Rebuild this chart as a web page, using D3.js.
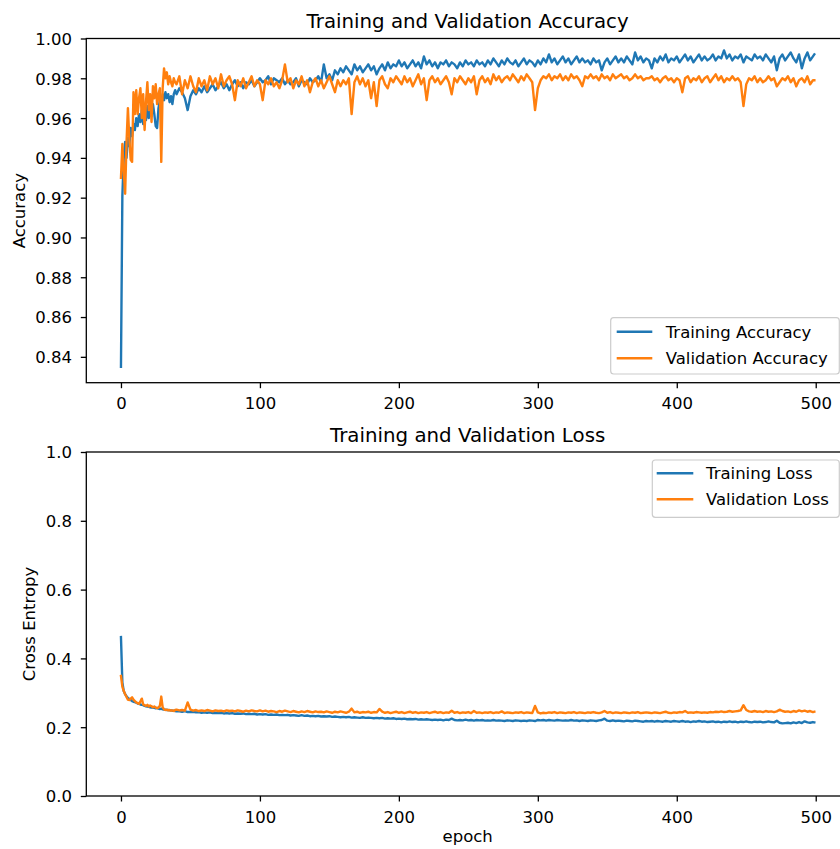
<!DOCTYPE html>
<html><head><meta charset="utf-8">
<script src="https://cdn.jsdelivr.net/npm/d3@7"></script>
<style>body{margin:0;background:#fff} text{font-family:"DejaVu Sans",sans-serif;fill:#000}</style>
</head><body><svg id="c" width="840" height="849"></svg>
<script>
// x values: every epoch for 0-39, every 2nd epoch afterwards, plus the last epoch
const epochs = d3.range(0, 40).concat(d3.range(40, 500, 2), [499]);

const trainAcc = [
0.835,0.921,0.940,0.948,0.940,0.950,0.946,0.955,0.951,0.957,
0.954,0.960,0.956,0.962,0.958,0.964,0.957,0.962,0.959,0.966,
0.960,0.965,0.961,0.967,0.962,0.956,0.955,0.965,0.969,0.967,
0.972,0.969,0.973,0.970,0.972,0.968,0.971,0.967,0.972,0.974,
0.972,0.975,0.973,0.970,0.964,0.971,0.974,0.972,0.975,0.973,
0.976,0.973,0.975,0.977,0.974,0.976,0.978,0.975,0.977,0.974,
0.977,0.979,0.976,0.978,0.975,0.978,0.977,0.979,0.976,0.978,
0.980,0.978,0.979,0.981,0.977,0.980,0.979,0.978,0.980,0.977,
0.979,0.977,0.978,0.980,0.976,0.979,0.978,0.977,0.980,0.978,
0.979,0.981,0.978,0.987,0.980,0.982,0.979,0.984,0.982,0.985,
0.983,0.986,0.984,0.982,0.987,0.984,0.986,0.983,0.985,0.987,
0.984,0.986,0.982,0.985,0.987,0.984,0.988,0.985,0.987,0.986,
0.989,0.986,0.988,0.985,0.987,0.989,0.986,0.988,0.985,0.991,
0.987,0.989,0.986,0.988,0.985,0.988,0.987,0.989,0.986,0.988,
0.987,0.985,0.988,0.986,0.989,0.987,0.988,0.986,0.989,0.987,
0.988,0.986,0.989,0.987,0.990,0.988,0.986,0.989,0.987,0.990,
0.988,0.987,0.989,0.986,0.988,0.990,0.987,0.989,0.988,0.986,
0.989,0.987,0.990,0.988,0.992,0.988,0.990,0.987,0.989,0.991,
0.988,0.990,0.987,0.989,0.991,0.988,0.990,0.988,0.989,0.987,
0.990,0.988,0.989,0.984,0.988,0.990,0.987,0.989,0.991,0.988,
0.990,0.988,0.991,0.989,0.987,0.993,0.989,0.991,0.988,0.990,
0.989,0.985,0.990,0.988,0.991,0.989,0.992,0.988,0.990,0.989,
0.991,0.988,0.990,0.992,0.989,0.991,0.988,0.990,0.992,0.989,
0.991,0.989,0.990,0.992,0.989,0.991,0.990,0.994,0.990,0.992,
0.989,0.991,0.990,0.992,0.988,0.991,0.990,0.989,0.992,0.990,
0.991,0.989,0.992,0.990,0.988,0.991,0.984,0.990,0.992,0.989,
0.991,0.993,0.990,0.988,0.992,0.985,0.990,0.993,0.989,0.991,
0.992];

const valAcc = [
0.930,0.947,0.933,0.922,0.948,0.965,0.950,0.939,0.938,0.973,
0.962,0.974,0.962,0.970,0.975,0.960,0.972,0.954,0.968,0.978,
0.964,0.972,0.958,0.976,0.970,0.977,0.967,0.972,0.975,0.938,
0.975,0.985,0.980,0.983,0.977,0.981,0.978,0.976,0.980,0.978,
0.977,0.981,0.972,0.979,0.975,0.981,0.976,0.973,0.980,0.976,
0.979,0.974,0.981,0.977,0.980,0.975,0.982,0.976,0.979,0.981,
0.977,0.969,0.979,0.976,0.980,0.975,0.978,0.981,0.976,0.979,
0.977,0.969,0.979,0.977,0.980,0.976,0.978,0.975,0.979,0.987,
0.978,0.980,0.975,0.979,0.977,0.981,0.976,0.979,0.973,0.978,
0.980,0.976,0.979,0.975,0.978,0.981,0.977,0.973,0.979,0.976,
0.979,0.977,0.980,0.962,0.978,0.981,0.977,0.980,0.976,0.979,
0.970,0.978,0.966,0.979,0.981,0.977,0.975,0.980,0.978,0.981,
0.979,0.977,0.981,0.978,0.980,0.976,0.979,0.982,0.977,0.980,
0.969,0.979,0.981,0.978,0.980,0.977,0.979,0.981,0.978,0.972,
0.980,0.978,0.981,0.979,0.977,0.980,0.978,0.981,0.972,0.979,
0.981,0.978,0.980,0.977,0.982,0.979,0.981,0.978,0.980,0.981,
0.979,0.982,0.980,0.978,0.981,0.979,0.982,0.980,0.978,0.964,
0.975,0.979,0.981,0.980,0.982,0.979,0.981,0.980,0.982,0.979,
0.981,0.979,0.982,0.980,0.981,0.979,0.976,0.981,0.980,0.982,
0.980,0.981,0.979,0.982,0.980,0.981,0.979,0.982,0.980,0.981,
0.982,0.980,0.981,0.979,0.980,0.982,0.980,0.981,0.979,0.980,
0.980,0.981,0.979,0.980,0.978,0.980,0.981,0.979,0.980,0.978,
0.980,0.979,0.973,0.980,0.981,0.978,0.980,0.979,0.981,0.978,
0.980,0.981,0.978,0.980,0.982,0.979,0.981,0.978,0.980,0.979,
0.981,0.979,0.980,0.978,0.966,0.977,0.980,0.979,0.981,0.978,
0.980,0.978,0.979,0.981,0.979,0.980,0.976,0.978,0.980,0.979,
0.981,0.978,0.980,0.976,0.979,0.980,0.978,0.981,0.977,0.979,
0.979];

const trainLoss = [
0.462,0.330,0.305,0.296,0.290,0.285,0.282,0.279,0.276,0.274,
0.273,0.271,0.269,0.268,0.266,0.265,0.264,0.262,0.261,0.260,
0.259,0.258,0.257,0.257,0.256,0.255,0.256,0.254,0.253,0.254,
0.252,0.251,0.251,0.250,0.250,0.249,0.249,0.248,0.248,0.247,
0.246,0.246,0.245,0.247,0.244,0.244,0.245,0.243,0.244,0.242,
0.243,0.242,0.243,0.241,0.242,0.241,0.242,0.240,0.241,0.240,
0.241,0.239,0.240,0.239,0.240,0.238,0.239,0.238,0.239,0.237,
0.238,0.237,0.238,0.236,0.237,0.236,0.237,0.235,0.236,0.235,
0.236,0.234,0.235,0.234,0.233,0.235,0.233,0.234,0.232,0.233,
0.232,0.233,0.231,0.232,0.231,0.232,0.230,0.231,0.230,0.229,
0.230,0.229,0.230,0.228,0.229,0.228,0.227,0.229,0.227,0.228,
0.227,0.226,0.227,0.226,0.227,0.225,0.226,0.225,0.226,0.224,
0.225,0.224,0.225,0.223,0.224,0.223,0.224,0.222,0.223,0.222,
0.223,0.222,0.221,0.222,0.221,0.222,0.220,0.222,0.221,0.225,
0.221,0.220,0.221,0.220,0.222,0.220,0.221,0.219,0.221,0.220,
0.221,0.219,0.220,0.219,0.221,0.219,0.220,0.219,0.218,0.220,
0.219,0.218,0.220,0.219,0.218,0.219,0.218,0.220,0.219,0.218,
0.221,0.220,0.221,0.219,0.221,0.220,0.219,0.221,0.220,0.219,
0.220,0.219,0.221,0.219,0.220,0.218,0.220,0.219,0.218,0.220,
0.219,0.218,0.220,0.221,0.225,0.219,0.218,0.220,0.218,0.219,
0.218,0.217,0.219,0.218,0.217,0.219,0.218,0.217,0.216,0.218,
0.217,0.218,0.216,0.218,0.217,0.216,0.218,0.217,0.216,0.218,
0.217,0.216,0.218,0.216,0.217,0.215,0.217,0.216,0.218,0.216,
0.217,0.215,0.216,0.217,0.215,0.216,0.214,0.216,0.215,0.217,
0.215,0.216,0.214,0.216,0.215,0.217,0.215,0.214,0.216,0.215,
0.216,0.214,0.215,0.217,0.215,0.214,0.219,0.213,0.211,0.212,
0.213,0.211,0.214,0.212,0.215,0.212,0.217,0.214,0.213,0.215,
0.214];

const valLoss = [
0.349,0.318,0.305,0.296,0.288,0.280,0.279,0.283,0.287,0.280,
0.276,0.272,0.270,0.268,0.275,0.283,0.266,0.264,0.262,0.265,
0.260,0.263,0.261,0.258,0.260,0.257,0.255,0.257,0.262,0.289,
0.258,0.252,0.250,0.251,0.249,0.250,0.248,0.249,0.247,0.250,
0.251,0.249,0.250,0.248,0.272,0.251,0.248,0.250,0.247,0.249,
0.247,0.250,0.248,0.246,0.249,0.247,0.248,0.246,0.249,0.247,
0.248,0.246,0.249,0.247,0.245,0.248,0.246,0.249,0.247,0.246,
0.249,0.246,0.248,0.245,0.247,0.246,0.244,0.247,0.245,0.248,
0.246,0.244,0.247,0.245,0.243,0.246,0.244,0.247,0.245,0.243,
0.246,0.244,0.245,0.243,0.246,0.244,0.242,0.245,0.243,0.246,
0.244,0.242,0.245,0.254,0.243,0.245,0.242,0.244,0.243,0.245,
0.242,0.244,0.243,0.253,0.245,0.242,0.244,0.241,0.243,0.245,
0.242,0.244,0.241,0.243,0.245,0.242,0.244,0.241,0.243,0.242,
0.244,0.241,0.243,0.245,0.242,0.244,0.241,0.243,0.242,0.248,
0.242,0.244,0.241,0.243,0.242,0.244,0.241,0.247,0.242,0.243,
0.241,0.243,0.242,0.244,0.241,0.243,0.242,0.246,0.241,0.243,
0.242,0.241,0.243,0.242,0.244,0.241,0.243,0.242,0.241,0.262,
0.243,0.240,0.242,0.241,0.243,0.242,0.244,0.241,0.243,0.242,
0.241,0.243,0.242,0.244,0.241,0.243,0.242,0.241,0.243,0.242,
0.244,0.242,0.241,0.243,0.247,0.242,0.244,0.241,0.243,0.242,
0.241,0.243,0.242,0.241,0.243,0.242,0.244,0.241,0.242,0.243,
0.242,0.241,0.243,0.242,0.241,0.243,0.245,0.242,0.241,0.243,
0.242,0.244,0.243,0.247,0.242,0.243,0.242,0.244,0.243,0.242,
0.243,0.242,0.244,0.243,0.245,0.244,0.246,0.244,0.245,0.247,
0.245,0.246,0.247,0.249,0.264,0.250,0.246,0.245,0.247,0.245,
0.246,0.244,0.247,0.245,0.246,0.244,0.246,0.251,0.247,0.245,
0.246,0.244,0.247,0.245,0.249,0.246,0.248,0.245,0.247,0.244,
0.245];

const xTicks = [0, 100, 200, 300, 400, 500];
const accTicks = [0.84, 0.86, 0.88, 0.90, 0.92, 0.94, 0.96, 0.98, 1.00];
const lossTicks = [0.0, 0.2, 0.4, 0.6, 0.8, 1.0];
const colors = {train: "#1f77b4", val: "#ff7f0e"};

const svg = d3.select("#c");
svg.append("rect").attr("width", 840).attr("height", 849).attr("fill", "#fff");

const L = 86.3, R = 849;
const x = d3.scaleLinear().domain([-24.95, 523.95]).range([L, R]);
const FS = 16.5;

let clipId = 0;
function panel(o) {
  const y = d3.scaleLinear().domain(o.yDomain).range([o.bottom, o.top]);
  const g = svg.append("g");
  const id = "clip" + (clipId++);
  svg.append("clipPath").attr("id", id).append("rect")
    .attr("x", L).attr("y", o.top).attr("width", R - L).attr("height", o.bottom - o.top);

  const line = d3.line().x((d, i) => x(epochs[i])).y(d => y(d));
  o.series.forEach(s => {
    g.append("path").datum(s.values)
      .attr("clip-path", `url(#${id})`)
      .attr("fill", "none").attr("stroke", s.color).attr("stroke-width", 2.4)
      .attr("stroke-linejoin", "round").attr("stroke-linecap", "square")
      .attr("d", line);
  });

  // spines
  g.append("rect").attr("x", L).attr("y", o.top).attr("width", R - L).attr("height", o.bottom - o.top)
    .attr("fill", "none").attr("stroke", "#000").attr("stroke-width", 1.3);

  const xa = g.append("g").attr("transform", `translate(0,${o.bottom})`)
    .call(d3.axisBottom(x).tickValues(xTicks).tickSize(5.5).tickFormat(d3.format("d")));
  xa.select(".domain").remove();
  xa.selectAll("line").attr("stroke", "#000").attr("stroke-width", 1.3);
  xa.selectAll("text").attr("dy", null).attr("y", 26.6)
    .style("font-size", FS + "px").style("font-family", "DejaVu Sans").attr("fill", "#000");

  const ya = g.append("g").attr("transform", `translate(${L},0)`)
    .call(d3.axisLeft(y).tickValues(o.yTicks).tickSize(5.5).tickFormat(d3.format(o.fmt)));
  ya.select(".domain").remove();
  ya.selectAll("line").attr("stroke", "#000").attr("stroke-width", 1.3);
  ya.selectAll("text").attr("x", -14.3).attr("dy", "0.36em")
    .style("font-size", FS + "px").style("font-family", "DejaVu Sans").attr("fill", "#000");

  g.append("text").attr("x", (L + R) / 2).attr("y", o.top - 10.2)
    .attr("text-anchor", "middle").style("font-size", "19.8px").text(o.title);

  g.append("text").attr("transform", `translate(${o.ylabelX},${(o.top + o.bottom) / 2}) rotate(-90)`)
    .attr("text-anchor", "middle").style("font-size", FS + "px").text(o.ylabel);

  if (o.xlabel) {
    g.append("text").attr("x", (L + R) / 2).attr("y", o.bottom + 46)
      .attr("text-anchor", "middle").style("font-size", FS + "px").text(o.xlabel);
  }

  // legend
  const lg = o.legend;
  const lgG = g.append("g");
  lgG.append("rect").attr("x", lg.x0).attr("y", lg.y0).attr("width", lg.x1 - lg.x0).attr("height", lg.y1 - lg.y0)
    .attr("rx", 3).attr("fill", "#fff").attr("fill-opacity", 0.8)
    .attr("stroke", "#cccccc").attr("stroke-width", 1.2);
  o.series.forEach((s, i) => {
    const yy = lg.rows[i];
    lgG.append("line").attr("x1", lg.h0).attr("x2", lg.h1).attr("y1", yy).attr("y2", yy)
      .attr("stroke", s.color).attr("stroke-width", 2.4);
    lgG.append("text").attr("x", lg.tx).attr("y", yy).attr("dy", "0.36em")
      .style("font-size", FS + "px").text(s.name);
  });
}

panel({
  top: 38.5, bottom: 382.7, yDomain: [0.827, 1.0], yTicks: accTicks, fmt: ".2f",
  title: "Training and Validation Accuracy", ylabel: "Accuracy", ylabelX: 24.7,
  series: [
    {name: "Training Accuracy", values: trainAcc, color: colors.train},
    {name: "Validation Accuracy", values: valAcc, color: colors.val}
  ],
  legend: {x0: 610.7, x1: 839.3, y0: 317.7, y1: 374, h0: 616.7, h1: 652.3, tx: 665.7, rows: [331.7, 358.3]}
});

panel({
  top: 452, bottom: 796, yDomain: [0, 1], yTicks: lossTicks, fmt: ".1f",
  title: "Training and Validation Loss", ylabel: "Cross Entropy", ylabelX: 34.7, xlabel: "epoch",
  series: [
    {name: "Training Loss", values: trainLoss, color: colors.train},
    {name: "Validation Loss", values: valLoss, color: colors.val}
  ],
  legend: {x0: 652.3, x1: 839.3, y0: 460, y1: 517.3, h0: 656.7, h1: 693.3, tx: 706, rows: [473.3, 499.3]}
});
</script></body></html>
